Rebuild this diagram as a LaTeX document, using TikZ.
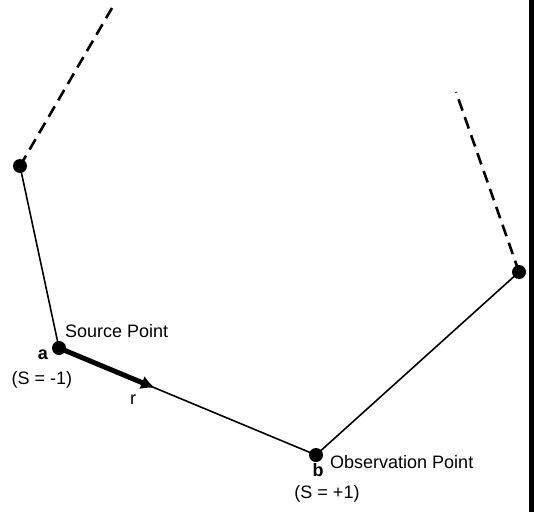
\documentclass[tikz,border=0pt]{standalone}
\usepackage{fontspec}
\setmainfont{Liberation Sans}
\usetikzlibrary{arrows.meta}
\begin{document}
\begin{tikzpicture}[x=1pt,y=1pt,
  dot/.style={circle,fill=black,inner sep=0pt,minimum size=14pt},
  lbl/.style={font=\fontsize{18}{20}\selectfont,inner sep=0pt},
  seg/.style={line width=1.6pt},
  dsh/.style={line width=2.6pt,dash pattern=on 12pt off 7pt}]
\useasboundingbox (0,0) rectangle (534,512);
\fill[white] (0,0) rectangle (534,512);
\fill[black] (529,0) rectangle (534,512);
\coordinate (t1) at (112,504);
\coordinate (t2) at (456,420);
\node[dot] (p1) at (20,346) {};
\node[dot] (a) at (59,164) {};
\node[dot] (b) at (316,57) {};
\node[dot] (p2) at (519,240) {};
\coordinate (rend) at (155,124);
\draw[dsh] (p1.center) -- (t1);
\draw[dsh] (p2.center) -- (t2);
\draw[seg] (p1.center) -- (a.center) -- (b.center) -- (p2.center);
\draw[line width=5pt,-{Latex[length=14pt,width=14pt]}] (a.center) -- (rend);
\node[lbl,anchor=west] (src) at (65,181) {Source Point};
\node[lbl] (la) at (43,157) {\textbf{a}};
\node[lbl] (sa) at (42,132) {(S = -1)};
\node[lbl] (lr) at (133,112) {r};
\node[lbl,anchor=west] (obs) at (330,50) {Observation Point};
\node[lbl] (lb) at (318,42) {\textbf{b}};
\node[lbl] (sb) at (327,18) {(S = +1)};
\end{tikzpicture}
\end{document}
